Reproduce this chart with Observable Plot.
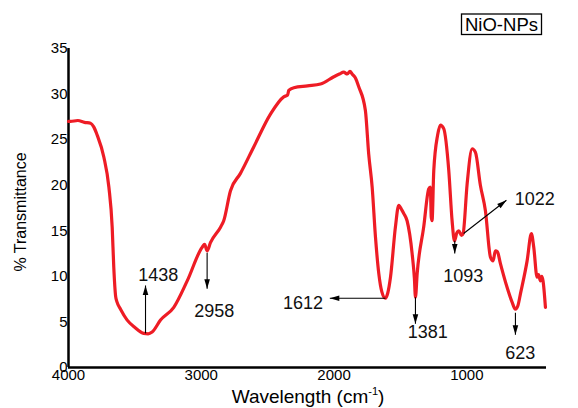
<!DOCTYPE html>
<html>
<head>
<meta charset="utf-8">
<script src="https://cdn.jsdelivr.net/npm/d3@7"></script>
<script src="https://cdn.jsdelivr.net/npm/@observablehq/plot@0.6"></script>
<style>
  html, body { margin: 0; padding: 0; background: #ffffff; }
  #chart { width: 578px; height: 408px; position: relative; }
</style>
</head>
<body>
<div id="chart"></div>
<script>
// ---- Data ----
const wavenumber = [4000, 3985, 3930, 3880, 3834, 3810, 3784, 3734, 3696, 3671, 3659, 3645, 3635, 3608, 3558, 3500, 3433, 3400, 3370, 3307, 3207, 3106, 2993, 2975, 2956, 2931, 2855, 2831, 2780, 2705, 2605, 2479, 2379, 2350, 2341, 2303, 2200, 2102, 2002, 1960, 1927, 1900, 1880, 1864, 1840, 1814, 1764, 1739, 1713, 1688, 1663, 1640, 1613, 1595, 1575, 1538, 1513, 1490, 1475, 1450, 1412, 1395, 1387, 1374, 1325, 1287, 1275, 1268, 1262, 1249, 1220, 1199, 1174, 1136, 1111, 1093, 1075, 1061, 1040, 1028, 998, 960, 935, 898, 860, 822, 802, 785, 770, 747, 697, 660, 634, 615, 596, 546, 514, 496, 471, 460, 446, 436, 426, 408];
const transmittance = [27.0, 27.0, 27.1, 26.9, 26.8, 26.4, 25.5, 23.1, 19.8, 15.4, 11.0, 7.8, 7.2, 6.4, 5.2, 4.4, 3.75, 3.7, 3.9, 5.2, 6.6, 9.5, 13.2, 13.5, 12.8, 13.7, 15.4, 16.1, 19.4, 21.3, 24.2, 27.8, 29.7, 29.9, 30.4, 30.7, 30.9, 31.1, 31.9, 32.2, 32.4, 32.2, 32.5, 32.2, 31.8, 30.8, 28.2, 23.4, 19.8, 14.3, 10.3, 8.3, 7.6, 8.2, 9.9, 15.4, 17.8, 17.3, 16.9, 16.1, 12.5, 9.8, 7.7, 10.3, 15.4, 19.6, 19.8, 16.5, 16.1, 21.6, 25.5, 26.6, 26.2, 21.6, 16.1, 13.9, 14.8, 15.0, 14.5, 14.7, 20.1, 24.0, 23.6, 20.0, 17.2, 12.1, 11.7, 12.8, 12.7, 11.4, 8.8, 7.2, 6.4, 6.8, 8.1, 11.7, 14.7, 13.2, 9.9, 10.2, 9.5, 10.0, 9.5, 6.6];

const xTicks = [4000, 3000, 2000, 1000];
const yTicks = [0, 5, 10, 15, 20, 25, 30, 35];

// Peak annotations
const peakLabels = ["1438", "2958", "1612", "1381", "1093", "1022", "623"];
const labelX = [3324, 2902, 2234, 1294, 1027, 488, 598];
const labelY = [10.1, 6.2, 7.05, 3.9, 10.05, 18.5, 1.55];
const arrowFromX = [3420, 2956, 1613, 1387, 1091, 1024, 634];
const arrowFromY = [3.75, 12.6, 7.6, 7.7, 13.9, 14.7, 6.0];
const arrowToX = [3420, 2956, 2032, 1387, 1091, 702, 634];
const arrowToY = [9.0, 8.65, 7.6, 4.8, 12.5, 18.35, 3.6];

const seriesName = "NiO-NPs";
const xTitle = "Wavelength (cm";
const xTitleSup = "-1";
const yTitle = "% Transmittance";

// ---- Layout ----
const W = 578, H = 408;
const mL = 68, mR = 32, mT = 48, mB = 41;
const xDomain = [4000, 400];
const yDomain = [0, 35];
const kx = (W - mL - mR) / Math.abs(xDomain[1] - xDomain[0]);
const ky = (H - mT - mB) / (yDomain[1] - yDomain[0]);

const spectrum = wavenumber.map((w, i) => ({w, t: transmittance[i]}));
const arrows = peakLabels.map((l, i) => {
  const dxp = -(arrowToX[i] - arrowFromX[i]) * kx;
  const dyp = -(arrowToY[i] - arrowFromY[i]) * ky;
  return {
    x1: arrowFromX[i], y1: arrowFromY[i], x2: arrowToX[i], y2: arrowToY[i],
    angle: Math.atan2(dxp, -dyp) * 180 / Math.PI
  };
});
const labels = peakLabels.map((l, i) => ({l, x: labelX[i], y: labelY[i]}));

const arrowHead = {
  draw(context) {
    context.moveTo(0, 0);
    context.lineTo(-2.8, 9.5);
    context.lineTo(2.8, 9.5);
    context.closePath();
  }
};

const font = "'Liberation Sans', Arial, Helvetica, sans-serif";

const plot = Plot.plot({
  width: W,
  height: H,
  marginLeft: mL,
  marginRight: mR,
  marginTop: mT,
  marginBottom: mB,
  style: {fontFamily: font, fontSize: "15px", color: "#000", background: "#fff", overflow: "visible"},
  x: {domain: xDomain, ticks: xTicks, tickSize: 0, tickPadding: 2, label: null, tickFormat: d => String(d)},
  y: {domain: yDomain, ticks: yTicks, tickSize: 0, tickPadding: 1, label: null},
  marks: [
    Plot.ruleX([4000], {y1: 0, y2: 35, stroke: "#000", strokeWidth: 2.5}),
    Plot.ruleY([0], {x1: 4000, x2: 400, stroke: "#000", strokeWidth: 2.5}),
    Plot.line(spectrum, {x: "w", y: "t", stroke: "#ee1c25", strokeWidth: 3.2, curve: "monotone-x"}),
    Plot.link(arrows, {x1: "x1", y1: "y1", x2: "x2", y2: "y2", stroke: "#000", strokeWidth: 1.1}),
    Plot.dot(arrows, {x: "x2", y: "y2", symbol: arrowHead, rotate: "angle", fill: "#000", stroke: "none", r: 4}),
    Plot.text(labels, {x: "x", y: "y", text: "l", fontSize: 18, fill: "#111", textAnchor: "middle", lineAnchor: "middle"})
  ]
});

const svg = d3.select(plot);
// Legend box
svg.append("rect")
  .attr("x", 461.5).attr("y", 14).attr("width", 80).attr("height", 20.5)
  .attr("fill", "#fff").attr("stroke", "#000").attr("stroke-width", 1.3);
svg.append("text")
  .attr("x", 501.5).attr("y", 30.8)
  .attr("text-anchor", "middle")
  .style("font-family", font).style("font-size", "18.5px").attr("fill", "#000")
  .text(seriesName);
// Y axis title
svg.append("text")
  .attr("transform", "translate(26,212) rotate(-90)")
  .attr("text-anchor", "middle")
  .style("font-family", font).style("font-size", "16px").attr("fill", "#000")
  .text(yTitle);
// X axis title with superscript
const xt = svg.append("text")
  .attr("x", 308).attr("y", 403)
  .attr("text-anchor", "middle")
  .style("font-family", font).style("font-size", "19px").attr("fill", "#000");
xt.append("tspan").text(xTitle);
xt.append("tspan").attr("dy", -8).style("font-size", "11px").text(xTitleSup);
xt.append("tspan").attr("dy", 8).text(")");

document.getElementById("chart").appendChild(plot);
</script>
</body>
</html>
